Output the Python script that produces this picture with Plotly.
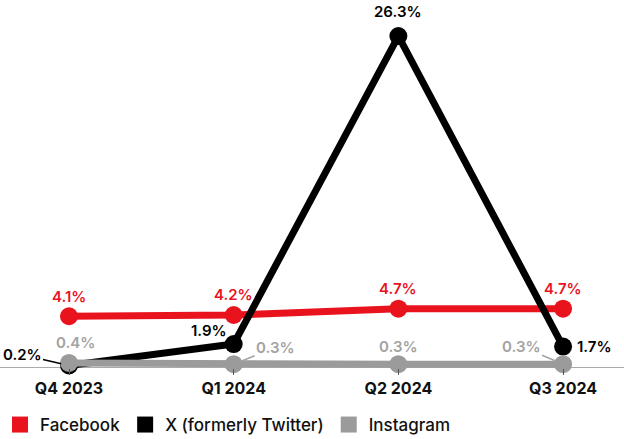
import plotly.graph_objects as go

quarters = ["Q4 2023", "Q1 2024", "Q2 2024", "Q3 2024"]
facebook = [4.1, 4.2, 4.7, 4.7]
x_twitter = [0.2, 1.9, 26.3, 1.7]
instagram = [0.4, 0.3, 0.3, 0.3]

RED = "#E8131D"
BLACK = "#000000"
GRAY = "#9B9B9B"
GRAY_TXT = "#A3A3A3"
FONT = "Inter"

series = [("Facebook", facebook, RED), ("X (formerly Twitter)", x_twitter, BLACK), ("Instagram", instagram, GRAY)]

xs = list(range(len(quarters)))
fig = go.Figure()
for name, vals, col in series:
    fig.add_trace(go.Scatter(
        x=xs, y=vals, name=name, mode="lines+markers",
        line=dict(color=col, width=7),
        marker=dict(color=col, size=18, symbol="circle"),
        cliponaxis=False, showlegend=False,
    ))
for name, vals, col in series:
    fig.add_trace(go.Scatter(
        x=[None], y=[None], name=name, mode="markers",
        marker=dict(color=col, size=19, symbol="square"),
        showlegend=True,
    ))

def lab(i, v, color, xshift=0, yshift=0, arrow=None):
    d = dict(x=i, y=v, text=f"{v}%", font=dict(family=FONT, size=15, color=color, weight=600))
    if arrow:
        d.update(showarrow=True, arrowhead=0, arrowwidth=1.5, arrowcolor=color,
                 ax=arrow[0], ay=arrow[1], standoff=8)
    else:
        d.update(showarrow=False, xshift=xshift, yshift=yshift)
    fig.add_annotation(**d)

# Facebook labels
for i, v in enumerate(facebook):
    lab(i, v, RED, yshift=20)
# X labels
lab(0, x_twitter[0], BLACK, arrow=(-47, -11))
lab(1, x_twitter[1], BLACK, xshift=-25, yshift=14)
lab(2, x_twitter[2], BLACK, yshift=25)
lab(3, x_twitter[3], BLACK, xshift=31, yshift=0)
# Instagram labels
lab(0, instagram[0], GRAY_TXT, xshift=6, yshift=20)
lab(1, instagram[1], GRAY_TXT, arrow=(42, -17))
lab(2, instagram[2], GRAY_TXT, yshift=18)
lab(3, instagram[3], GRAY_TXT, arrow=(-42, -18))

fig.update_layout(
    width=624, height=439,
    margin=dict(l=0, r=0, t=20, b=71),
    paper_bgcolor="white", plot_bgcolor="white",
    font=dict(family=FONT, color="#111111"),
    xaxis=dict(range=[-0.419, 3.37], tickvals=xs, ticktext=quarters,
               showgrid=False, zeroline=False, showline=False,
               ticks="outside", ticklen=6, tickcolor="#555555", tickwidth=1,
               tickfont=dict(family=FONT, size=16, color="#111111", weight=650),
               automargin=False),
    yaxis=dict(range=[0, 27.57], visible=False, showgrid=False, zeroline=False),
    showlegend=True,
    legend=dict(orientation="h", xref="container", x=-0.02, xanchor="left", yref="container",
                y=1 - 425 / 439, yanchor="middle",
                font=dict(family=FONT, size=17, color="#111111", weight=500),
                tracegroupgap=0, bgcolor="rgba(0,0,0,0)"),
    shapes=[dict(type="line", xref="paper", yref="y", x0=0, x1=1, y0=0, y1=0,
                 line=dict(color="#555555", width=1), layer="below")],
)

fig.write_html("out.html")
